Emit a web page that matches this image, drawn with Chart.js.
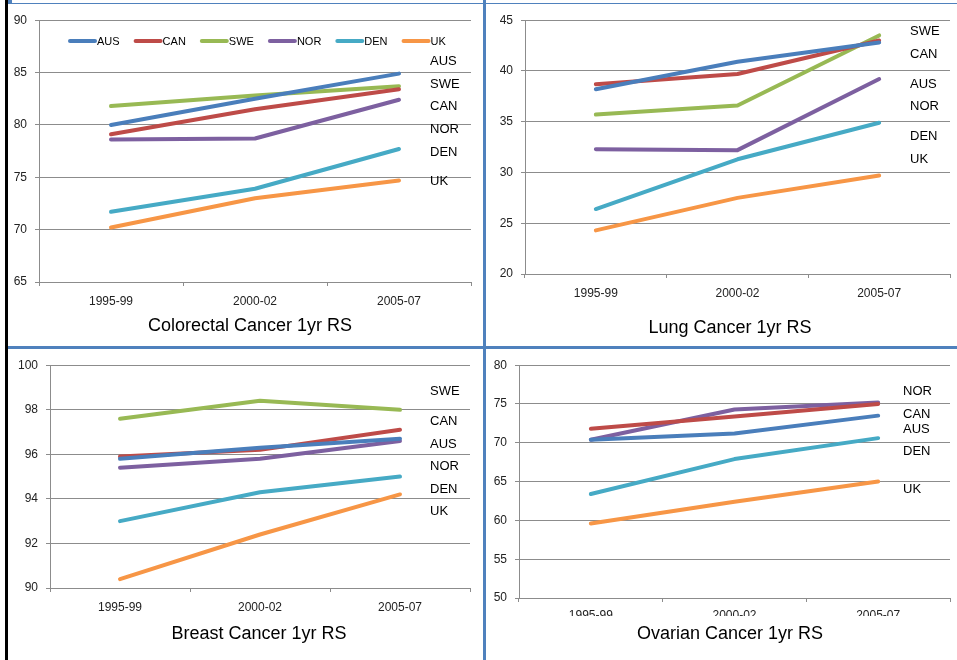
<!DOCTYPE html>
<html lang="en">
<head>
    <meta charset="UTF-8">
    <title>Cancer 1yr RS</title>
    <script src="https://cdn.jsdelivr.net/npm/chart.js"></script>
    <style>
        body { margin: 0; background: #fff; width: 957px; height: 660px; position: relative; overflow: hidden; }
        canvas { position: absolute; }
        .linha { position: absolute; }
    </style>
</head>
<body>
    <!-- bordas do slide -->
    <div class="linha" style="left:5px; top:0; width:3px; height:660px; background:#000;"></div>
    <div class="linha" style="left:8px; top:3px; width:949px; height:1px; background:#4f81bd;"></div>
    <div class="linha" style="left:8px; top:0; width:4px; height:4px; background:#4f81bd;"></div>
    <div class="linha" style="left:483px; top:0; width:3px; height:660px; background:#4f81bd;"></div>
    <div class="linha" style="left:8px; top:346px; width:949px; height:3px; background:#4f81bd;"></div>

    <canvas id="colorectal" width="475" height="341" style="left:8px; top:5px;"></canvas>
    <canvas id="lung" width="470" height="341" style="left:487px; top:5px;"></canvas>
    <canvas id="breast" width="475" height="310" style="left:8px; top:350px;"></canvas>
    <canvas id="ovarian" width="470" height="310" style="left:487px; top:350px;"></canvas>

<script>
  // Dados
  const periodos = ['1995-99', '2000-02', '2005-07'];
  const paises = ['AUS', 'CAN', 'SWE', 'NOR', 'DEN', 'UK'];

  // valores na ordem de "paises"
  const colorectal = [
    [80.0, 82.5, 84.9],
    [79.1, 81.5, 83.4],
    [81.8, 82.8, 83.7],
    [78.6, 78.7, 82.4],
    [71.7, 73.9, 77.7],
    [70.2, 73.0, 74.7]
  ];
  const lung = [
    [38.2, 40.9, 42.8],
    [38.7, 39.7, 43.0],
    [35.7, 36.6, 43.5],
    [32.3, 32.2, 39.2],
    [26.4, 31.3, 34.9],
    [24.3, 27.5, 29.7]
  ];
  const breast = [
    [95.8, 96.3, 96.7],
    [95.9, 96.2, 97.1],
    [97.6, 98.4, 98.0],
    [95.4, 95.8, 96.6],
    [93.0, 94.3, 95.0],
    [90.4, 92.4, 94.2]
  ];
  const ovarian = [
    [70.4, 71.2, 73.5],
    [71.8, 73.4, 75.0],
    [null, null, null],
    [70.4, 74.3, 75.2],
    [63.4, 67.9, 70.6],
    [59.6, 62.4, 65.0]
  ];

  // escalas do eixo y: [min, max, passo]
  const eixoColorectal = [65, 90, 5];
  const eixoLung = [20, 45, 5];
  const eixoBreast = [90, 100, 2];
  const eixoOvarian = [50, 80, 5];

  // ordem dos rótulos ao lado direito
  const rotulosColorectal = ['AUS', 'SWE', 'CAN', 'NOR', 'DEN', 'UK'];
  const rotulosLung = ['SWE', 'CAN', 'AUS', 'NOR', 'DEN', 'UK'];
  const rotulosBreast = ['SWE', 'CAN', 'AUS', 'NOR', 'DEN', 'UK'];
  const rotulosOvarian = ['NOR', 'CAN', 'AUS', 'DEN', 'UK'];

  const cores = ['#4a7ebb', '#be4b48', '#98b954', '#7d60a0', '#46aac5', '#f79646'];
  const corGrade = '#8c8c8c';
  const fonte = '"Liberation Sans", Arial, sans-serif';

  // Plugin para título, rótulos e legenda desenhados à mão
  const decoracao = {
    id: 'decoracao',
    afterDraw(chart, args, o) {
      const c = chart.ctx;
      c.save();
      if (o.cortarEm) {
        c.fillStyle = '#fff';
        c.fillRect(0, o.cortarEm, chart.width, chart.height - o.cortarEm);
      }
      c.fillStyle = '#000';
      c.textBaseline = 'middle';
      c.textAlign = 'center';
      c.font = '18px ' + fonte;
      c.fillText(o.titulo, o.tituloX, o.tituloY);

      c.textAlign = 'left';
      c.font = '13px ' + fonte;
      o.rotulos.forEach((txt, i) => c.fillText(txt, o.rotuloX, o.rotuloY[i]));

      if (o.legenda) {
        let x = o.legenda.x;
        const y = o.legenda.y;
        c.font = '11px ' + fonte;
        c.lineWidth = 4;
        c.lineCap = 'round';
        chart.data.datasets.forEach(ds => {
          c.strokeStyle = ds.borderColor;
          c.beginPath();
          c.moveTo(x + 2, y);
          c.lineTo(x + 27, y);
          c.stroke();
          c.fillStyle = '#000';
          c.fillText(ds.label, x + 29, y + 1);
          x += 29 + c.measureText(ds.label).width + 14;
        });
      }
      c.restore();
    }
  };

  function criarGrafico(id, valores, eixo, area, deco, padX) {
    const canvas = document.getElementById(id);
    const offX = parseInt(canvas.style.left);
    const offY = parseInt(canvas.style.top);
    const datasets = paises.map((p, i) => ({
      label: p,
      data: valores[i],
      borderColor: cores[i],
      backgroundColor: cores[i],
      borderWidth: 4,
      borderCapStyle: 'round',
      borderJoinStyle: 'round',
      pointRadius: 0,
      tension: 0,
      fill: false
    }));

    deco.tituloX -= offX; deco.tituloY -= offY;
    deco.rotuloX -= offX;
    deco.rotuloY = deco.rotuloY.map(v => v - offY);
    if (deco.legenda) { deco.legenda.x -= offX; deco.legenda.y -= offY; }
    if (deco.cortarEm) deco.cortarEm -= offY;

    new Chart(canvas, {
      type: 'line',
      data: { labels: periodos, datasets: datasets },
      plugins: [decoracao],
      options: {
        responsive: false,
        animation: false,
        layout: {
          padding: { left: 0, top: area.t - offY, right: offX + canvas.width - area.r, bottom: 0 }
        },
        scales: {
          x: {
            offset: true,
            afterFit: s => { s.height = offY + canvas.height - area.b; },
            grid: { drawOnChartArea: false, offset: true, tickLength: 4, color: corGrade },
            border: { color: corGrade },
            ticks: { color: '#222', font: { family: fonte, size: 12 }, padding: padX, maxRotation: 0 }
          },
          y: {
            min: eixo[0],
            max: eixo[1],
            afterFit: s => { s.width = area.l - offX; },
            grid: { color: corGrade, tickLength: 4 },
            border: { color: corGrade },
            ticks: { stepSize: eixo[2], color: '#222', font: { family: fonte, size: 12 }, padding: 8 }
          }
        },
        plugins: {
          legend: { display: false },
          title: { display: false },
          tooltip: { enabled: false },
          decoracao: deco
        }
      }
    });
  }

  criarGrafico('colorectal', colorectal, eixoColorectal,
    { l: 39, t: 18, r: 471, b: 282 },
    { titulo: 'Colorectal Cancer 1yr RS', tituloX: 250, tituloY: 326,
      rotulos: rotulosColorectal, rotuloX: 430, rotuloY: [61, 84, 106, 129, 152, 181],
      legenda: { x: 68, y: 41 } }, 8);

  criarGrafico('lung', lung, eixoLung,
    { l: 525, t: 18, r: 950, b: 274 },
    { titulo: 'Lung Cancer 1yr RS', tituloX: 730, tituloY: 328,
      rotulos: rotulosLung, rotuloX: 910, rotuloY: [31, 54, 84, 106, 136, 159] }, 8);

  criarGrafico('breast', breast, eixoBreast,
    { l: 50, t: 363, r: 470, b: 588 },
    { titulo: 'Breast Cancer 1yr RS', tituloX: 259, tituloY: 634,
      rotulos: rotulosBreast, rotuloX: 430, rotuloY: [391, 421, 444, 466, 489, 511] }, 8);

  criarGrafico('ovarian', ovarian, eixoOvarian,
    { l: 519, t: 363, r: 950, b: 598 },
    { titulo: 'Ovarian Cancer 1yr RS', tituloX: 730, tituloY: 634,
      rotulos: rotulosOvarian, rotuloX: 903, rotuloY: [391, 414, 429, 451, 489],
      cortarEm: 616 }, 6);
</script>
</body>
</html>
